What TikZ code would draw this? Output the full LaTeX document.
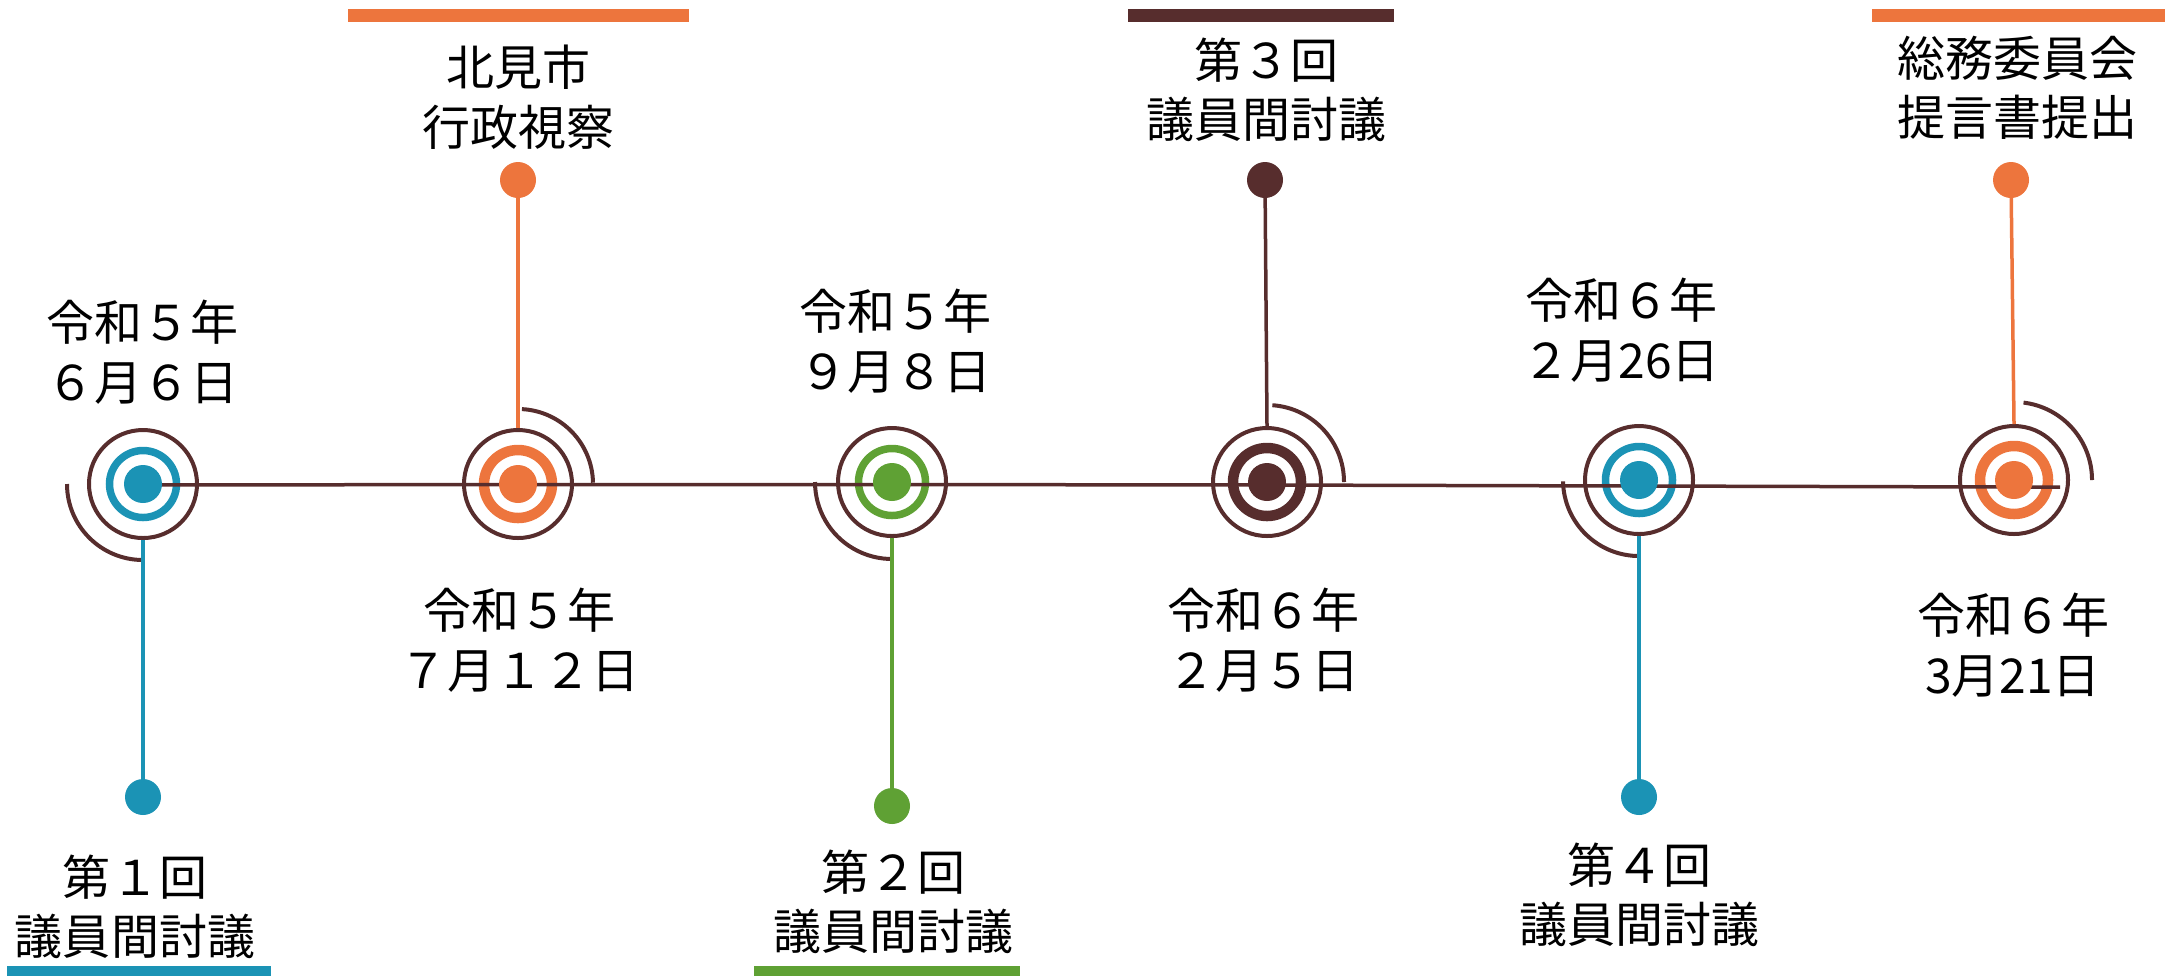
\documentclass[tikz,border=0pt]{standalone}
\usepackage{fontspec}
\setmainfont{Noto Sans CJK JP}
\definecolor{tblue}{RGB}{27,147,181}
\definecolor{torange}{RGB}{237,117,61}
\definecolor{tgreen}{RGB}{95,161,52}
\definecolor{tbrown}{RGB}{87,45,45}
\pgfdeclarelayer{ringlayer}
\pgfdeclarelayer{linelayer}
\pgfsetlayers{ringlayer,linelayer,main}
\tikzset{
 outerring/.style={circle, draw=tbrown, line width=1.6pt, inner sep=0pt, minimum size=43.2pt},
 thinring/.style={circle, draw=#1, line width=3pt, inner sep=0pt, minimum size=26.8pt},
 thickring/.style={circle, draw=#1, line width=4.2pt, inner sep=0pt, minimum size=27.2pt},
 hubdot/.style={circle, fill=#1, inner sep=0pt, minimum size=15.2pt},
 enddot/.style={circle, fill=#1, inner sep=0pt, minimum size=14.4pt},
 swirl/.style={draw=tbrown, line width=1.6pt},
 timeline/.style={draw=tbrown, line width=1.4pt},
 stemline/.style={draw=#1, line width=1.4pt},
 lbl/.style={align=center, inner sep=0pt, text=black, font=\fontsize{19.2pt}{23.8pt}\selectfont},
}
\begin{document}
\begin{tikzpicture}[x=0.4pt,y=0.4pt]
\useasboundingbox (0,0) rectangle (2170,-976);

% rings and swirls
\begin{pgfonlayer}{ringlayer}
 \node[outerring] (o1) at (143,-484) {};
 \node[thinring=tblue] (r1) at (o1) {};
 \draw[swirl] ([shift={(180:76)}]o1.center) arc[start angle=180, end angle=270, radius=76];

 \node[outerring] (o2) at (518,-484) {};
 \node[thickring=torange] (r2) at (o2) {};
 \draw[swirl] ([shift={(87:75)}]o2.center) arc[start angle=87, end angle=1, radius=75];

 \node[outerring] (o3) at (892,-482) {};
 \node[thinring=tgreen] (r3) at (o3) {};
 \draw[swirl] ([shift={(180:77)}]o3.center) arc[start angle=180, end angle=271, radius=77];

 \node[outerring] (o4) at (1267,-482) {};
 \node[thickring=tbrown] (r4) at (o4) {};
 \draw[swirl] ([shift={(86:77)}]o4.center) arc[start angle=86, end angle=0, radius=77];

 \node[outerring] (o5) at (1639,-480) {};
 \node[thinring=tblue] (r5) at (o5) {};
 \draw[swirl] ([shift={(181:76)}]o5.center) arc[start angle=181, end angle=271, radius=76];

 \node[outerring] (o6) at (2014,-480) {};
 \node[thickring=torange] (r6) at (o6) {};
 \draw[swirl] ([shift={(83:78)}]o6.center) arc[start angle=83, end angle=0, radius=78];
\end{pgfonlayer}

% hub dots
\node[hubdot=tblue] (c1) at (o1) {};
\node[hubdot=torange] (c2) at (o2) {};
\node[hubdot=tgreen] (c3) at (o3) {};
\node[hubdot=tbrown] (c4) at (o4) {};
\node[hubdot=tblue] (c5) at (o5) {};
\node[hubdot=torange] (c6) at (o6) {};

% end dots
\node[enddot=tblue] (d1) at (143,-797) {};
\node[enddot=torange] (d2) at (518,-180) {};
\node[enddot=tgreen] (d3) at (892,-806) {};
\node[enddot=tbrown] (d4) at (1265,-180) {};
\node[enddot=tblue] (d5) at (1639,-797) {};
\node[enddot=torange] (d6) at (2011,-180) {};
\coordinate (lineend) at (2060,-487);

% connectors
\begin{pgfonlayer}{linelayer}
 \draw[timeline] ([yshift=-0.4pt]c1.center) -- ([yshift=-0.2pt]c2.center)
   -- ([yshift=-1pt]c3.center) -- ([yshift=-1.2pt]c4.center)
   -- ([yshift=-2.4pt]c5.center) -- ([yshift=-2.8pt]c6.center) -- (lineend);
 \draw[stemline=tblue] (o1.south) -- (d1.center);
 \draw[stemline=torange] (d2.center) -- (o2.north);
 \draw[stemline=tgreen] (o3.south) -- (d3.center);
 \draw[stemline=tbrown] (d4.center) -- (o4.north);
 \draw[stemline=tblue] (o5.south) -- (d5.center);
 \draw[stemline=torange] (d6.center) -- (o6.north);
\end{pgfonlayer}

% colour bars
\fill[torange] (348,-9) rectangle (689,-22);
\fill[tbrown] (1128,-9) rectangle (1394,-22);
\fill[torange] (1872,-9) rectangle (2165,-22);
\fill[tblue] (7,-966) rectangle (271,-976);
\fill[tgreen] (754,-966) rectangle (1020,-976);

% labels
\node[lbl] (t1) at (142,-352) {令和５年\\６月６日};
\node[lbl] (t2) at (518,-97) {北見市\\行政視察};
\node[lbl] (t3) at (519,-640) {令和５年\\７月１２日};
\node[lbl] (t4) at (895,-341) {令和５年\\９月８日};
\node[lbl] (t5) at (893,-902) {第２回\\議員間討議};
\node[lbl] (t6) at (135,-907) {第１回\\議員間討議};
\node[lbl] (t7) at (1266,-90) {第３回\\議員間討議};
\node[lbl] (t8) at (1263,-640) {令和６年\\２月５日};
\node[lbl] (t9) at (1621,-330) {令和６年\\２月26日};
\node[lbl] (t10) at (1639,-895) {第４回\\議員間討議};
\node[lbl] (t11) at (2017,-88) {総務委員会\\提言書提出};
\node[lbl] (t12) at (2013,-645) {令和６年\\3月21日};
\end{tikzpicture}
\end{document}
